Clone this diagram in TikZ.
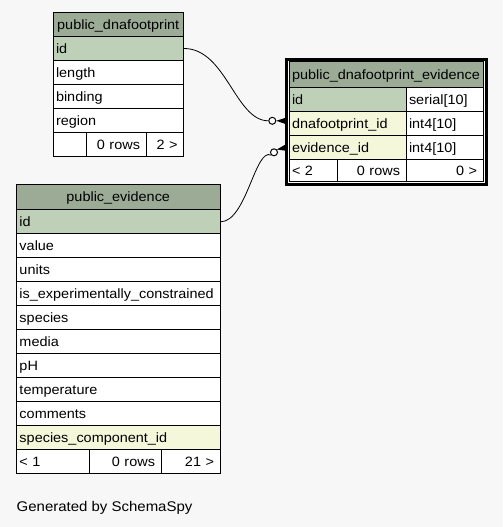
\documentclass[tikz,border=0pt]{standalone}
\usepackage{fontspec}
\setmainfont{Liberation Sans}[FakeStretch=1.07]
\definecolor{bgc}{HTML}{F7F7F7}
\definecolor{hdr}{HTML}{9BAB96}
\definecolor{pkc}{HTML}{BED1B8}
\definecolor{fkc}{HTML}{F4F7DA}
\tikzset{
  cellbox/.style={draw=black, line width=1pt, rectangle, anchor=north west,
    inner ysep=0pt, inner xsep=3pt, text height=9.5pt, text depth=0pt,
    font=\fontsize{13.5}{16}\selectfont},
  odot/.style={circle, draw=black, fill=white, line width=1pt, minimum size=7pt, inner sep=0pt},
  relline/.style={draw=black, line width=0.8pt},
  crow/.style={fill=black}
}
\newcommand\tcell[8]{%
  \pgfmathsetmacro\tcw{#4-6}%
  \node[cellbox, fill=#6, minimum height=#5, text width=\tcw pt, align=#7] (#1) at (#2,#3) {#8};}
\newcommand\rcell[7]{%
  \pgfmathsetmacro\tcw{#4-12}%
  \node[cellbox, inner xsep=6pt, fill=#6, minimum height=#5, text width=\tcw pt, align=right] (#1) at (#2,#3) {#7};}
\begin{document}
\begin{tikzpicture}[x=1pt, y=-1pt]
\useasboundingbox (0,0) rectangle (503,527);
\fill[bgc] (0,0) rectangle (503,527);

% ---- public_dnafootprint
\tcell{t1h}{52.5}{12}{130.5}{24}{hdr}{center}{public\_dnafootprint}
\tcell{t1id}{52.5}{36}{130.5}{24}{pkc}{left}{id}
\tcell{t1len}{52.5}{60}{130.5}{24}{white}{left}{length}
\tcell{t1bind}{52.5}{84}{130.5}{24}{white}{left}{binding}
\tcell{t1reg}{52.5}{108}{130.5}{24}{white}{left}{region}
\tcell{t1f1}{52.5}{132}{33}{24}{white}{left}{}
\rcell{t1f2}{85.5}{132}{60}{24}{white}{0 rows}
\rcell{t1f3}{145.5}{132}{37.5}{24}{white}{2 >}

% ---- public_dnafootprint_evidence
\node[draw=black, line width=3pt, fill=white, rectangle, anchor=north west, inner sep=0pt,
      minimum width=200.2pt, minimum height=125.6pt] (t2frame) at (284.8,57.7) {};
\node[cellbox, inner xsep=1pt, fill=hdr, minimum height=26, text width=192pt, align=center] (t2h) at (288.5,61) {public\_dnafootprint\_evidence};
\tcell{t2id}{288.5}{87}{117}{24}{pkc}{left}{id}
\tcell{t2idt}{405.5}{87}{77}{24}{white}{left}{serial[10]}
\tcell{t2dfk}{288.5}{111}{117}{24}{fkc}{left}{dnafootprint\_id}
\tcell{t2dfkt}{405.5}{111}{77}{24}{white}{left}{int4[10]}
\tcell{t2efk}{288.5}{135}{117}{24}{fkc}{left}{evidence\_id}
\tcell{t2efkt}{405.5}{135}{77}{24}{white}{left}{int4[10]}
\tcell{t2f1}{288.5}{159}{48}{22}{white}{left}{< 2}
\rcell{t2f2}{336.5}{159}{69}{22}{white}{0 rows}
\rcell{t2f3}{405.5}{159}{77}{22}{white}{0 >}

% ---- public_evidence
\tcell{t3h}{16}{184}{203.5}{25.3}{hdr}{center}{public\_evidence}
\tcell{t3id}{16}{209.3}{203.5}{24}{pkc}{left}{id}
\tcell{t3val}{16}{233.3}{203.5}{24}{white}{left}{value}
\tcell{t3units}{16}{257.3}{203.5}{24}{white}{left}{units}
\tcell{t3exp}{16}{281.3}{203.5}{24}{white}{left}{is\_experimentally\_constrained}
\tcell{t3spec}{16}{305.3}{203.5}{24}{white}{left}{species}
\tcell{t3media}{16}{329.3}{203.5}{24}{white}{left}{media}
\tcell{t3ph}{16}{353.3}{203.5}{24}{white}{left}{pH}
\tcell{t3temp}{16}{377.3}{203.5}{24}{white}{left}{temperature}
\tcell{t3comm}{16}{401.3}{203.5}{24}{white}{left}{comments}
\tcell{t3scid}{16}{425.3}{203.5}{24}{fkc}{left}{species\_component\_id}
\tcell{t3f1}{16}{449.3}{72.5}{24}{white}{left}{< 1}
\rcell{t3f2}{88.5}{449.3}{72}{24}{white}{0 rows}
\rcell{t3f3}{160.5}{449.3}{59}{24}{white}{21 >}

% ---- relationships
\node[odot] (c1) at (272.3,120.8) {};
\node[odot] (c2) at (274.0,152.3) {};
\coordinate (k1a) at (286,117.6);
\coordinate (k1b) at (286,124.2);
\coordinate (k2a) at (286,144.2);
\coordinate (k2b) at (286,150.8);

\draw[relline] (t1id.east) .. controls +(42,0) and +(-33,0) .. (c1.west);
\fill[crow] (c1.east) -- (k1a) -- (k1b) -- cycle;
\draw[relline] (t3id.east) .. controls +(26,0) and +(-16,-8) .. (c2.south west);
\fill[crow] (c2.north east) -- (k2a) -- (k2b) -- cycle;

\node[anchor=base west, inner sep=0pt, font=\fontsize{14}{16}\selectfont] (gen) at (16.5,511.3) {Generated by SchemaSpy};
\end{tikzpicture}
\end{document}
